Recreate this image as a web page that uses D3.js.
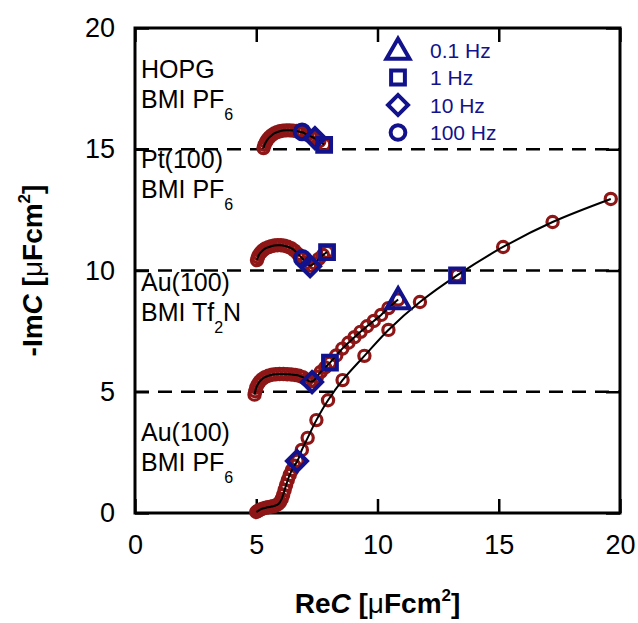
<!DOCTYPE html>
<html><head><meta charset="utf-8">
<script src="https://cdn.jsdelivr.net/npm/d3@7"></script>
<style>body{margin:0;background:#fff}svg{display:block;font-family:"Liberation Sans",Arial,sans-serif}</style>
</head><body><svg id="c" width="638" height="623"></svg>
<script>
// ---- data ----
const xTicks = [0, 5, 10, 15, 20];
const yTicks = [0, 5, 10, 15, 20];
const offsets = [5, 10, 15];

// Au(100) BMI PF6 (offset 0)
const auPF6X = [5.00,5.06,5.13,5.21,5.30,5.40,5.50,5.60,5.70,5.80,5.90,5.98,6.05,6.11,6.17,6.23,6.30,6.38,6.47,6.57,6.70,6.88,7.12,7.48,7.96,8.56,9.46,10.45,11.75,13.28,15.18,17.22,19.62];
const auPF6Y = [0.04,0.08,0.12,0.16,0.19,0.22,0.24,0.26,0.28,0.31,0.36,0.45,0.58,0.75,0.95,1.15,1.36,1.57,1.77,1.95,2.15,2.60,3.10,3.83,4.65,5.48,6.48,7.55,8.70,9.80,10.97,12.00,12.95];
// Au(100) BMI Tf2N (offset 5)
const auTfX = [4.93,4.96,5.00,5.06,5.14,5.24,5.36,5.50,5.65,5.80,5.96,6.12,6.28,6.44,6.60,6.76,6.92,7.08,7.22,7.36,7.50,7.66,7.84,8.04,8.30,8.55,8.80,9.05,9.30,9.57,9.85,10.15,10.45,10.85];
const auTfY = [4.88,5.02,5.17,5.30,5.42,5.52,5.60,5.66,5.70,5.72,5.73,5.73,5.72,5.71,5.69,5.66,5.60,5.50,5.42,5.45,5.62,5.82,6.00,6.20,6.50,6.78,7.02,7.25,7.47,7.70,7.92,8.17,8.45,8.80];
// Pt(100) BMI PF6 (offset 10)
const ptX = [5.03,5.07,5.12,5.20,5.28,5.38,5.50,5.62,5.75,5.88,6.02,6.16,6.30,6.44,6.58,6.72,6.90,7.05,7.22,7.40,7.58,7.75,7.92];
const ptY = [10.43,10.55,10.66,10.76,10.84,10.91,10.96,11.00,11.03,11.04,11.04,11.02,10.98,10.92,10.82,10.68,10.50,10.32,10.20,10.30,10.48,10.64,10.76];
// HOPG BMI PF6 (offset 15)
const hopgX = [5.30,5.34,5.40,5.47,5.55,5.64,5.74,5.85,5.97,6.10,6.24,6.38,6.52,6.66,6.80,6.90,7.10,7.25,7.42,7.60,7.80];
const hopgY = [15.05,15.18,15.30,15.41,15.50,15.58,15.65,15.70,15.74,15.77,15.78,15.78,15.77,15.75,15.72,15.70,15.60,15.53,15.45,15.33,15.20];

// frequency markers
const freqNames = ["0.1 Hz", "1 Hz", "10 Hz", "100 Hz"];
const freqShapes = ["triangle", "square", "diamond", "circle"];
const markX = [6.68, 13.28, 7.30, 8.04, 10.85, 6.90, 7.22, 7.92, 6.89, 7.42, 7.80];
const markY = [2.14, 9.80, 5.40, 6.20, 8.80, 10.50, 10.18, 10.76, 15.72, 15.46, 15.18];
const markF = ["10 Hz","1 Hz","10 Hz","1 Hz","0.1 Hz","100 Hz","10 Hz","1 Hz","100 Hz","10 Hz","1 Hz"];

const labelLines = [
  ["HOPG", "BMI PF|6"],
  ["Pt(100)", "BMI PF|6"],
  ["Au(100)", "BMI Tf|2|N"],
  ["Au(100)", "BMI PF|6"]
];

// ---- layout ----
const svg = d3.select("#c");
const L = 135, T = 28, W = 485, H = 485;
const x = d3.scaleLinear().domain([0, 20]).range([L, L + W]);
const y = d3.scaleLinear().domain([0, 20]).range([T + H, T]);
const RED = "#8e1616", BLUE = "#12128c";

// dashed offset lines
svg.append("g").selectAll("line").data(offsets).join("line")
  .attr("x1", x(0)).attr("x2", x(20)).attr("y1", d => y(d)).attr("y2", d => y(d))
  .attr("stroke", "#000").attr("stroke-width", 2.5).attr("stroke-dasharray", "14,9");

// axes with inward ticks
const tl = 14;
svg.append("g").attr("transform", `translate(0,${T + H})`)
  .call(d3.axisBottom(x).tickValues(xTicks).tickSizeInner(-tl).tickSizeOuter(0).tickPadding(tl + 8))
  .call(g => { g.select(".domain").remove(); g.selectAll("line").attr("stroke-width", 2.5);
    g.selectAll("text").attr("font-size", 27).attr("fill", "#000").attr("font-family", "Liberation Sans, Arial"); });
svg.append("g").attr("transform", `translate(${L},0)`)
  .call(d3.axisLeft(y).tickValues(yTicks).tickSizeInner(-tl).tickSizeOuter(0).tickPadding(tl + 6))
  .call(g => { g.select(".domain").remove(); g.selectAll("line").attr("stroke-width", 2.5);
    g.selectAll("text").attr("font-size", 27).attr("fill", "#000").attr("font-family", "Liberation Sans, Arial"); });
svg.append("g").attr("transform", `translate(0,${T})`)
  .call(d3.axisTop(x).tickValues(xTicks).tickSizeInner(-tl).tickSizeOuter(0).tickFormat(""))
  .call(g => { g.select(".domain").remove(); g.selectAll("line").attr("stroke-width", 2.5); });
svg.append("g").attr("transform", `translate(${L + W},0)`)
  .call(d3.axisRight(y).tickValues(yTicks).tickSizeInner(-tl).tickSizeOuter(0).tickFormat(""))
  .call(g => { g.select(".domain").remove(); g.selectAll("line").attr("stroke-width", 2.5); });

svg.append("rect").attr("x", L).attr("y", T).attr("width", W).attr("height", H)
  .attr("fill", "none").attr("stroke", "#000").attr("stroke-width", 3);

// series
const series = [[auPF6X, auPF6Y], [auTfX, auTfY], [ptX, ptY], [hopgX, hopgY]]
  .map(([xs, ys]) => xs.map((v, i) => [v, ys[i]]));
const line = d3.line().x(d => x(d[0])).y(d => y(d[1])).curve(d3.curveCatmullRom.alpha(0.5));

const gS = svg.append("g");
series.forEach(pts => {
  gS.append("g").selectAll("circle").data(pts).join("circle")
    .attr("cx", d => x(d[0])).attr("cy", d => y(d[1])).attr("r", 5.6)
    .attr("fill", "none").attr("stroke", RED).attr("stroke-width", 3.2);
});
series.forEach(pts => {
  gS.append("path").attr("d", line(pts)).attr("fill", "none").attr("stroke", "#000").attr("stroke-width", 2);
});

// marker symbols
function symPath(shape) {
  if (shape === "triangle") return d3.symbol(d3.symbolTriangle, 230)();
  if (shape === "square") return d3.symbol(d3.symbolSquare, 190)();
  if (shape === "diamond") return d3.symbol(d3.symbolSquare, 200)();
  return d3.symbol(d3.symbolCircle, 170)();
}
function shapeOf(f) { return freqShapes[freqNames.indexOf(f)]; }
function rot(shape) { return shape === "diamond" ? " rotate(45)" : (shape === "triangle" ? " translate(0,2)" : ""); }

svg.append("g").selectAll("path").data(markX.map((v, i) => [v, markY[i], markF[i]])).join("path")
  .attr("transform", d => `translate(${x(d[0])},${y(d[1])})` + rot(shapeOf(d[2])))
  .attr("d", d => symPath(shapeOf(d[2])))
  .attr("fill", "none").attr("stroke", BLUE).attr("stroke-width", 4).attr("stroke-linejoin", "miter");

// legend
const lg = svg.append("g");
freqNames.forEach((f, i) => {
  const yy = 50 + i * 27.5;
  lg.append("path").attr("transform", `translate(398,${yy})` + rot(freqShapes[i]))
    .attr("d", symPath(freqShapes[i])).attr("fill", "none").attr("stroke", BLUE).attr("stroke-width", 4);
  lg.append("text").attr("x", 430).attr("y", yy + 7.5).attr("font-size", 21).attr("fill", BLUE).text(f);
});

// system labels
const labelBase = [78, 168, 291, 441];
labelLines.forEach((lines, i) => {
  lines.forEach((ln, j) => {
    const t = svg.append("text").attr("x", 141).attr("y", labelBase[i] + j * 30)
      .attr("font-size", 25).attr("fill", "#000");
    ln.split("|").forEach((part, k) => {
      if (k % 2 === 1) t.append("tspan").attr("font-size", 16).attr("dy", 12).text(part);
      else t.append("tspan").attr("dy", k === 0 ? 0 : -12).text(part);
    });
  });
});

// axis titles
const xt = svg.append("text").attr("x", x(10)).attr("y", 613).attr("text-anchor", "middle")
  .attr("font-size", 28).attr("font-weight", "bold");
xt.append("tspan").text("Re");
xt.append("tspan").attr("font-style", "italic").text("C");
xt.append("tspan").text(" [");
xt.append("tspan").attr("font-weight", "normal").text("μ");
xt.append("tspan").text("Fcm");
xt.append("tspan").attr("font-size", 17).attr("dy", -12).text("2");
xt.append("tspan").attr("dy", 12).text("]");

const yt = svg.append("text").attr("transform", `translate(42,${y(10)}) rotate(-90)`).attr("text-anchor", "middle")
  .attr("font-size", 28).attr("font-weight", "bold");
yt.append("tspan").text("-Im");
yt.append("tspan").attr("font-style", "italic").text("C");
yt.append("tspan").text(" [");
yt.append("tspan").attr("font-weight", "normal").text("μ");
yt.append("tspan").text("Fcm");
yt.append("tspan").attr("font-size", 17).attr("dy", -12).text("2");
yt.append("tspan").attr("dy", 12).text("]");
</script></body></html>
